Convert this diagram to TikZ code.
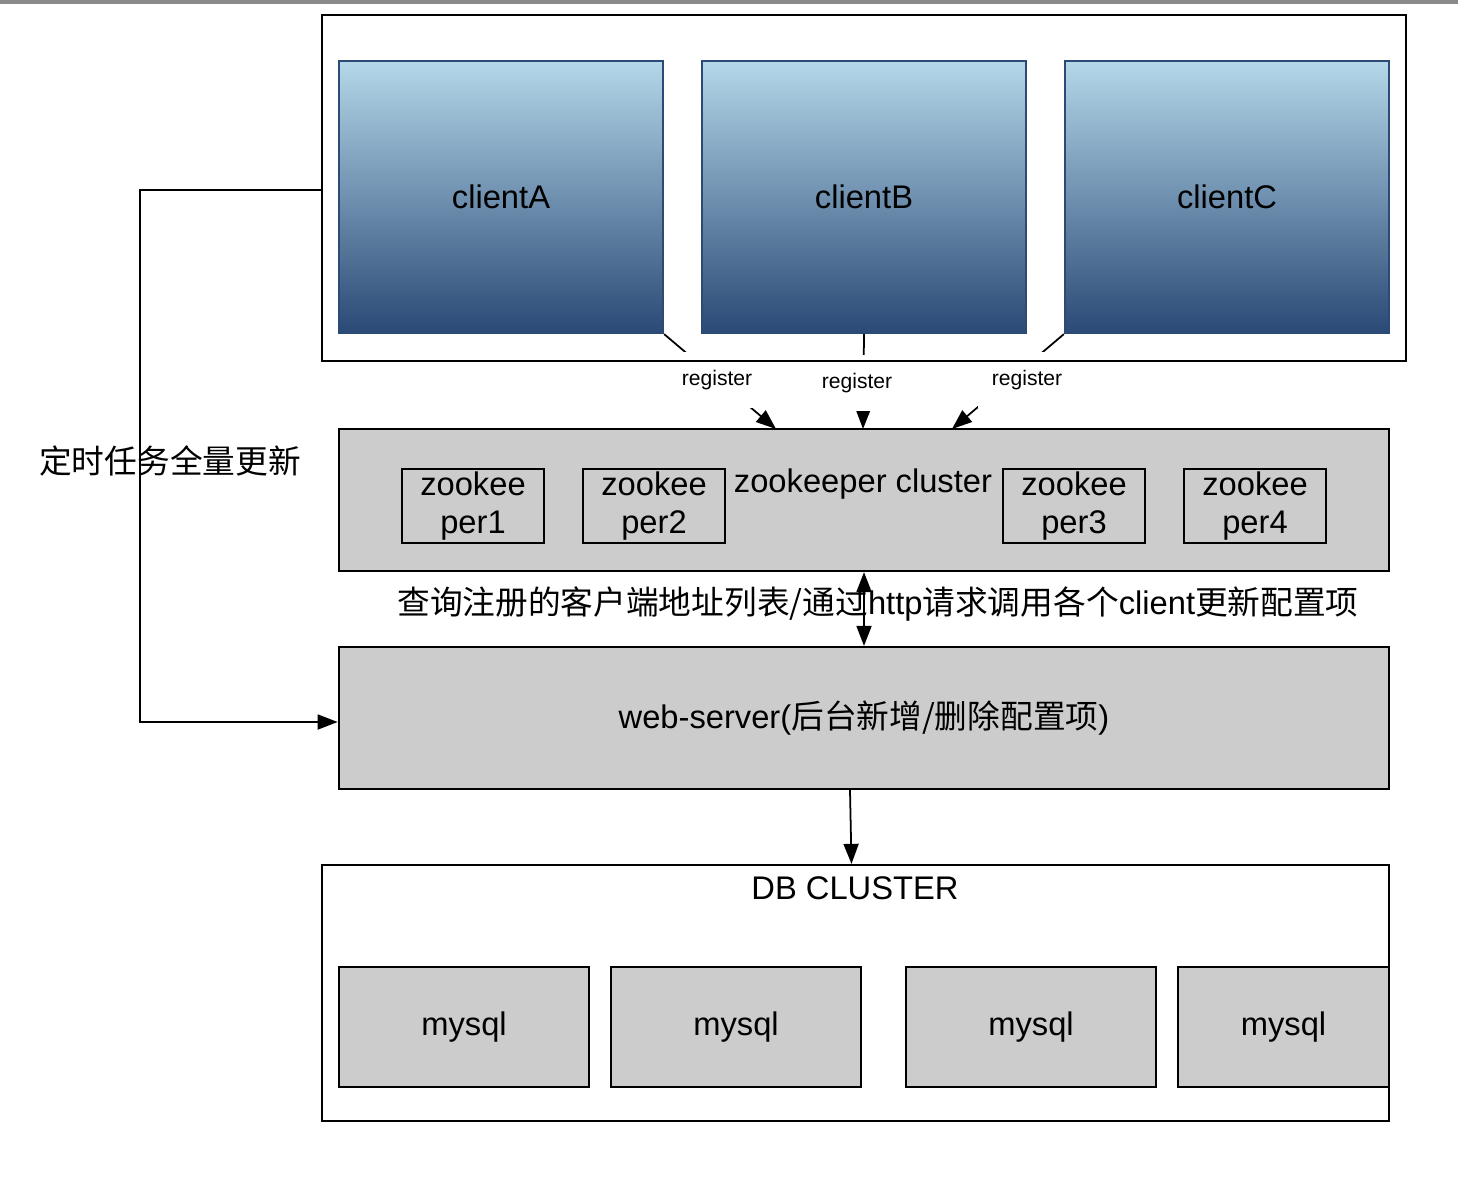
\documentclass[tikz,border=0pt]{standalone}
\usepackage{fontspec}
\setmainfont{Liberation Sans}
\newfontfamily\cjk{Noto Sans CJK SC}
\usetikzlibrary{arrows.meta}
\definecolor{clienttop}{RGB}{180,215,233}
\definecolor{clientbot}{RGB}{42,73,117}
\definecolor{clientline}{RGB}{43,74,116}
\definecolor{boxgray}{RGB}{204,204,204}
\definecolor{bargray}{RGB}{138,138,138}

\begin{document}
\begin{tikzpicture}[x=0.01cm, y=-0.01cm, font=\fontsize{9.3}{10.6}\selectfont,
    frame/.style={draw, line width=0.6pt, inner sep=0pt},
    client/.style={draw=clientline, line width=0.6pt, top color=clienttop, bottom color=clientbot, minimum width=3.24cm, minimum height=2.72cm, inner sep=0pt},
    graybox/.style={frame, fill=boxgray},
    zkbox/.style={graybox, minimum width=1.42cm, minimum height=0.74cm, align=center},
    dbbox/.style={graybox, minimum width=2.5cm, minimum height=1.2cm},
    reg/.style={fill=white, font=\fontsize{6}{7}\selectfont, inner xsep=0.14cm, inner ysep=0.18cm},
    arr/.style={line width=0.5pt, -{Triangle[length=0.2cm, width=0.15cm]}},
    dbl/.style={line width=0.5pt, {Triangle[length=0.2cm, width=0.15cm]}-{Triangle[length=0.2cm, width=0.15cm]}}]
    \useasboundingbox (0,0) rectangle (1458,1176);
    \fill[bargray] (0,0) rectangle (1458,4);
    % clients
    \node[client] (ca) at (501,197) {clientA};
    \node[client] (cb) at (864,197) {clientB};
    \node[client] (cc) at (1227,197) {clientC};
    % zookeeper
    \node[graybox, minimum width=10.5cm, minimum height=1.42cm] (zk) at (864,500) {};
    \node (zt) at (863,484) {zookeeper cluster};
    \node[zkbox] (z1) at (473,506) {zookee\\per1};
    \node[zkbox] (z2) at (654,506) {zookee\\per2};
    \node[zkbox] (z3) at (1074,506) {zookee\\per3};
    \node[zkbox] (z4) at (1255,506) {zookee\\per4};
    \coordinate (p1) at (776,429);
    \coordinate (p2) at (863,429);
    \coordinate (p3) at (952,429);
    \draw[arr] (ca.south east) -- (p1);
    \draw[arr] (cb.south) -- (p2);
    \draw[arr] (cc.south west) -- (p3);
    \node[reg] (r1) at (717,380) {register};
    \node[reg] (r2) at (857,383) {register};
    \node[reg] (r3) at (1027,380) {register};
    \node[frame, minimum width=10.84cm, minimum height=3.46cm] (cl) at (864,188) {};
    % web-server
    \node[graybox, minimum width=10.5cm, minimum height=1.42cm] (web) at (864,718) {web-server({\cjk 后台新增/删除配置项})};
    \node (q) at (878,604) {{\cjk 查询注册的客户端地址列表/通过}http{\cjk 请求调用各个}client{\cjk 更新配置项}};
    \draw[dbl] (zk) -- (web);
    % db
    \node[frame, minimum width=10.67cm, minimum height=2.56cm] (db) at (855.5,993) {};
    \node[anchor=north] (dt) at (855,864) {DB CLUSTER};
    \node[dbbox] (m1) at (464,1027) {mysql};
    \node[dbbox] (m2) at (736,1027) {mysql};
    \node[dbbox] (m3) at (1031,1027) {mysql};
    \node[dbbox, minimum width=2.11cm] (m4) at (1283.5,1027) {mysql};
    \draw[arr] ([xshift=-0.14cm]web.south) -- ([xshift=-0.04cm]db.north);
    % timer
    \node (t) at (170,461) {\cjk 定时任务全量更新};
    \draw[arr] ([yshift=-0.02cm]cl.west) -- ++(-181,0) |- ([yshift=-0.04cm]web.west);
\end{tikzpicture}
\end{document}
